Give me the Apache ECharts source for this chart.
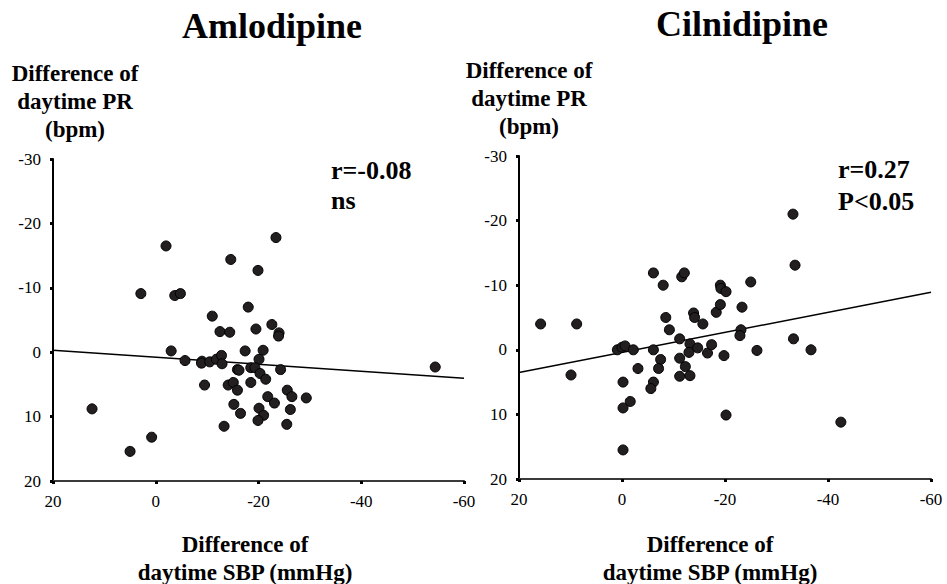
<!DOCTYPE html>
<html>
<head>
<meta charset="utf-8">
<script src="https://cdn.jsdelivr.net/npm/echarts@6/dist/echarts.min.js"></script>
<style>
html,body{margin:0;padding:0;background:#fff;}
#chart{width:947px;height:584px;}
</style>
</head>
<body>
<div id="chart"></div>
<script>
// ---- Data ----
const panelTitles = ['Amlodipine', 'Cilnidipine'];
const xTicks = [20, 0, -20, -40, -60];
const yTicks = [-30, -20, -10, 0, 10, 20];

// Amlodipine: x = difference of daytime SBP (mmHg), y = difference of daytime PR (bpm)
const amlodipineX = [-2.0, -23.4, -14.6, -19.9, 2.9, -3.7, -4.8, -18.0, -11.0, -12.5,
  -14.4, -19.5, -22.6, -24.0, -23.9, -3.0, -5.7, -9.0, -8.9, -10.5,
  -11.8, -12.8, -12.9, -17.4, -20.9, -20.1, -15.9, -16.2, -18.5, -19.3,
  -20.3, -21.4, -24.3, -9.5, -14.1, -15.1, -15.9, -18.5, -21.8, -25.6,
  -26.5, -29.3, -23.1, -15.2, -16.5, -20.1, -21.0, -19.9, -13.3, -26.2,
  -25.5, 12.4, 0.8, 5.0, -54.4];
const amlodipineY = [-16.5, -17.8, -14.4, -12.7, -9.1, -8.8, -9.1, -7.0, -5.6, -3.2,
  -3.1, -3.6, -4.3, -3.0, -2.5, -0.2, 1.3, 1.4, 1.7, 1.5,
  1.1, 0.5, 1.8, -0.2, -0.3, 1.1, 2.7, 2.8, 2.4, 2.4,
  3.3, 4.2, 2.7, 5.1, 5.1, 4.7, 5.9, 4.7, 6.9, 5.9,
  6.9, 7.1, 7.9, 8.1, 9.5, 8.7, 9.8, 10.6, 11.5, 8.9,
  11.2, 8.8, 13.2, 15.4, 2.3];
const amlodipineFitX = [20, -60];
const amlodipineFitY = [-0.3, 4.05];
const amlodipineStats = ['r=-0.08', 'ns'];

// Cilnidipine
const cilnidipineX = [-6.1, -8.0, -11.6, -12.1, -19.1, -19.2, -20.2, -33.2, -33.6, -25.0,
  15.8, 8.8, 9.9, -8.5, -9.2, -13.9, -14.1, -15.7, -18.3, -19.1,
  0.9, 0.0, -0.6, -2.2, -6.1, -7.5, -7.1, -3.1, -11.2, -13.2,
  -13.0, -14.7, -11.2, -12.3, -11.2, -13.2, -16.6, -17.4, -19.8, -0.2,
  -6.1, -5.6, -1.6, -0.2, -0.2, -20.2, -23.3, -23.1, -22.9, -26.2,
  -33.3, -36.7, -42.5];
const cilnidipineY = [-11.9, -10.0, -11.3, -11.9, -10.0, -9.5, -9.0, -21.0, -13.1, -10.5,
  -4.0, -4.0, 3.9, -5.0, -3.1, -5.7, -5.0, -4.0, -5.8, -7.0,
  0.0, -0.4, -0.6, 0.0, 0.0, 1.5, 2.9, 2.9, -1.7, -0.9,
  0.4, -0.3, 1.3, 2.6, 4.1, 4.0, 0.5, -0.8, 0.9, 5.0,
  5.0, 6.0, 8.0, 9.0, 15.5, 10.1, -6.6, -3.1, -2.2, 0.1,
  -1.7, 0.0, 11.2];
const cilnidipineFitX = [20, -60];
const cilnidipineFitY = [3.5, -8.9];
const cilnidipineStats = ['r=0.27', 'P<0.05'];

const yName = 'Difference of\ndaytime PR\n(bpm)';
const xName = 'Difference of\ndaytime SBP (mmHg)';

// ---- Chart ----
const FONT = 'Liberation Serif';
const zip = (a, b) => a.map((v, i) => [v, b[i]]);

function xAxisDef(gi) {
  return {
    gridIndex: gi, type: 'value', inverse: true,
    min: -60, max: 20, interval: 20,
    splitLine: { show: false },
    axisLine: { onZero: false, lineStyle: { color: '#3a3a3a', width: 2 } },
    axisTick: { show: true, length: 3, lineStyle: { color: '#000', width: 3 } },
    axisLabel: { color: '#000', fontFamily: FONT, fontSize: 17, margin: 12,
      formatter: v => xTicks.includes(v) ? String(v) : '' }
  };
}
function yAxisDef(gi) {
  return {
    gridIndex: gi, type: 'value', inverse: true,
    min: -30, max: 20, interval: 10,
    splitLine: { show: false },
    axisLine: { onZero: false, lineStyle: { color: '#000', width: 2 } },
    axisTick: { show: true, length: 3, lineStyle: { color: '#000', width: 3 } },
    axisLabel: { color: '#000', fontFamily: FONT, fontSize: 17, margin: 12,
      formatter: v => yTicks.includes(v) ? String(v) : '' }
  };
}
const scatterStyle = { color: '#231f20', borderColor: '#000', borderWidth: 1, opacity: 1 };

function txt(text, x, y, size, align, lh) {
  return { type: 'text', x: x, y: y, silent: true,
    style: { text: text, fill: '#000', fontFamily: FONT, fontWeight: 'bold', fontSize: size,
      textAlign: align || 'center', textVerticalAlign: 'middle', lineHeight: lh || Math.round(size * 1.2) } };
}

const chart = echarts.init(document.getElementById('chart'), null, { renderer: 'svg' });
chart.setOption({
  animation: false,
  backgroundColor: '#fff',
  grid: [
    { left: 53, top: 159, width: 411, height: 322 },
    { left: 519, top: 156, width: 412, height: 323 }
  ],
  xAxis: [xAxisDef(0), xAxisDef(1)],
  yAxis: [yAxisDef(0), yAxisDef(1)],
  series: [
    { type: 'line', xAxisIndex: 0, yAxisIndex: 0, data: zip(amlodipineFitX, amlodipineFitY),
      symbol: 'none', lineStyle: { color: '#000', width: 1.5 }, z: 1 },
    { type: 'scatter', xAxisIndex: 0, yAxisIndex: 0, data: zip(amlodipineX, amlodipineY),
      symbolSize: 10, itemStyle: scatterStyle, z: 2 },
    { type: 'line', xAxisIndex: 1, yAxisIndex: 1, data: zip(cilnidipineFitX, cilnidipineFitY),
      symbol: 'none', lineStyle: { color: '#000', width: 1.5 }, z: 1 },
    { type: 'scatter', xAxisIndex: 1, yAxisIndex: 1, data: zip(cilnidipineX, cilnidipineY),
      symbolSize: 10, itemStyle: scatterStyle, z: 2 }
  ],
  graphic: [
    txt(panelTitles[0], 272, 26, 36),
    txt(panelTitles[1], 742, 24, 36),
    txt(yName, 75, 101, 23, 'center', 28),
    txt(yName, 529, 98, 23, 'center', 28),
    txt(xName, 245, 558, 23, 'center', 28),
    txt(xName, 710, 558, 23, 'center', 28),
    txt(amlodipineStats[0], 331, 170, 26, 'left'),
    txt(amlodipineStats[1], 331, 200, 26, 'left'),
    txt(cilnidipineStats[0], 838, 169, 26, 'left'),
    txt(cilnidipineStats[1], 838, 201, 26, 'left')
  ]
});
</script>
</body>
</html>
